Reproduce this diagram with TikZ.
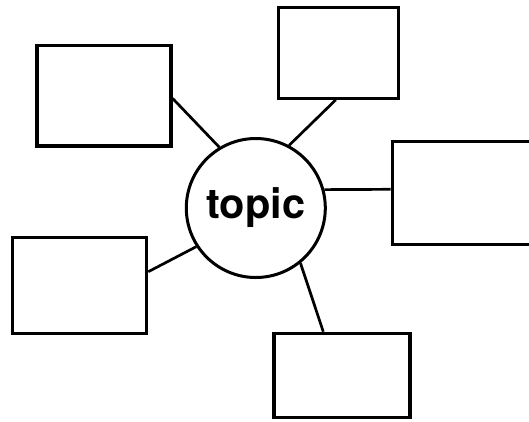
\documentclass[tikz,border=0pt]{standalone}
\usepackage{fontspec}
\setmainfont{TeX Gyre Heros}
\begin{document}
\begin{tikzpicture}[x=1pt,y=-1pt,
  leaf/.style={draw=black,line width=3.2pt,rectangle,inner sep=0pt,fill=white},
  hub/.style={draw=black,line width=3pt,circle,inner sep=0pt,minimum size=139pt,
    font=\fontsize{41.5}{48}\selectfont\bfseries},
  link/.style={draw=black,line width=2.7pt}]
\useasboundingbox (0,0) rectangle (529,421);
\clip (0,0) rectangle (529,421);
\fill[white] (0,0) rectangle (529,421);
\node[hub] (c) at (255.8,208) {topic};
\node[leaf,minimum width=134pt,minimum height=100.3pt] (tl) at (104,95.9) {};
\node[leaf,minimum width=120pt,minimum height=91pt] (tm) at (338.3,52.8) {};
\node[leaf,minimum width=168pt,minimum height=102.6pt] (r) at (476.3,193) {};
\node[leaf,minimum width=134pt,minimum height=95.6pt] (l) at (79.7,285.5) {};
\node[leaf,minimum width=136pt,minimum height=84.4pt] (b) at (342,375.5) {};
\draw[link] ([yshift=-2.5pt]tl.east) -- (c.121);
\draw[link] ([xshift=-2.6pt]tm.south) -- (c.62);
\draw[link] ([yshift=3.7pt]r.west) -- (c.15.5);
\draw[link] ([yshift=13.8pt]l.east) -- (c.213);
\draw[link] ([xshift=-18.7pt]b.north) -- (c.309);
\end{tikzpicture}
\end{document}
